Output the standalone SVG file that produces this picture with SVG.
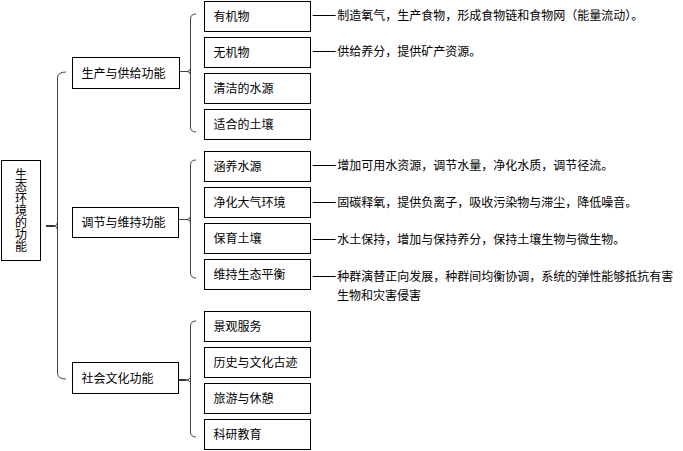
<svg xmlns="http://www.w3.org/2000/svg" width="683" height="451" viewBox="0 0 683 451">
<style>
  .box{fill:#fff;stroke:#000;stroke-width:1}
  .t{font-family:"Noto Sans CJK SC","Noto Sans",sans-serif;font-size:12px;fill:#000}
  .d{font-size:14.5px}
  .br{fill:none;stroke:#444;stroke-width:1}
  .tk{fill:none;stroke:#000;stroke-width:1.6}
</style>
<rect width="683" height="451" fill="#fff"/>
<g id="connectors">
  <path class="br" d="M66,72 Q57.5,72 57.5,78 L57.5,373 Q57.5,379 66,379"/>
  <path class="tk" d="M46,226 L54,226"/>
  <path class="br" d="M54,226 Q57.5,226 57.5,222 M54,226 Q57.5,226 57.5,230"/>
  <path class="br" d="M196,14 Q190.5,14 190.5,19 L190.5,127 Q190.5,132 196,132"/>
  <path class="br" d="M180,71.5 L187,71.5 Q190.5,71.5 190.5,68 M187,71.5 Q190.5,71.5 190.5,75"/>
  <path class="br" d="M196,160 Q190.5,160 190.5,165 L190.5,273 Q190.5,278 196,278"/>
  <path class="br" d="M179,219.5 L187,219.5 Q190.5,219.5 190.5,216 M187,219.5 Q190.5,219.5 190.5,223"/>
  <path class="br" d="M196,321 Q190.5,321 190.5,326 L190.5,432 Q190.5,437 196,437"/>
  <path class="tk" d="M179,380 L186,380"/>
  <path class="br" d="M186,380 Q190.5,380 190.5,376 M186,380 Q190.5,380 190.5,384"/>
</g>
<g id="root">
  <rect class="box" x="1.5" y="160.5" width="39" height="100"/>
  <text class="t" x="21" y="168" writing-mode="vertical-rl">生态环境的功能</text>
</g>
<g id="n-produce">
  <rect class="box" x="72.5" y="57.5" width="107" height="31"/>
  <text class="t" x="81.5" y="77.5">生产与供给功能</text>
</g>
<g id="n-regulate">
  <rect class="box" x="72.5" y="207.5" width="106" height="30"/>
  <text class="t" x="81.5" y="227">调节与维持功能</text>
</g>
<g id="n-social">
  <rect class="box" x="72.5" y="362.5" width="106" height="31"/>
  <text class="t" x="81.5" y="382.5">社会文化功能</text>
</g>
<g id="l1">
  <rect class="box" x="204.5" y="1.5" width="106" height="30"/>
  <text class="t" x="213.5" y="21">有机物</text>
  <text class="t" x="312" y="19.5"><tspan class="d">——</tspan><tspan dx="1">制造氧气，生产食物，形成食物链和食物网（能量流动）。</tspan></text>
</g>
<g id="l2">
  <rect class="box" x="204.5" y="37.5" width="106" height="30"/>
  <text class="t" x="213.5" y="57">无机物</text>
  <text class="t" x="312" y="56"><tspan class="d">——</tspan><tspan dx="1">供给养分，提供矿产资源。</tspan></text>
</g>
<g id="l3">
  <rect class="box" x="204.5" y="73.5" width="106" height="30"/>
  <text class="t" x="213.5" y="93">清洁的水源</text>
</g>
<g id="l4">
  <rect class="box" x="204.5" y="109.5" width="106" height="30"/>
  <text class="t" x="213.5" y="129">适合的土壤</text>
</g>
<g id="l5">
  <rect class="box" x="204.5" y="151.5" width="106" height="30"/>
  <text class="t" x="213.5" y="171">涵养水源</text>
  <text class="t" x="312" y="170"><tspan class="d">——</tspan><tspan dx="1">增加可用水资源，调节水量，净化水质，调节径流。</tspan></text>
</g>
<g id="l6">
  <rect class="box" x="204.5" y="187.5" width="106" height="30"/>
  <text class="t" x="213.5" y="207">净化大气环境</text>
  <text class="t" x="312" y="206.5"><tspan class="d">——</tspan><tspan dx="1">固碳释氧，提供负离子，吸收污染物与滞尘，降低噪音。</tspan></text>
</g>
<g id="l7">
  <rect class="box" x="204.5" y="223.5" width="106" height="30"/>
  <text class="t" x="213.5" y="243">保育土壤</text>
  <text class="t" x="312" y="243.5"><tspan class="d">——</tspan><tspan dx="1">水土保持，增加与保持养分，保持土壤生物与微生物。</tspan></text>
</g>
<g id="l8">
  <rect class="box" x="204.5" y="259.5" width="106" height="30"/>
  <text class="t" x="213.5" y="279">维持生态平衡</text>
  <text class="t" x="312" y="280.5"><tspan class="d">——</tspan><tspan dx="1">种群演替正向发展，种群间均衡协调，系统的弹性能够抵抗有害</tspan></text>
  <text class="t" x="337" y="299.5">生物和灾害侵害</text>
</g>
<g id="l9">
  <rect class="box" x="204.5" y="311.5" width="106" height="30"/>
  <text class="t" x="213.5" y="331">景观服务</text>
</g>
<g id="l10">
  <rect class="box" x="204.5" y="347.5" width="106" height="30"/>
  <text class="t" x="213.5" y="367">历史与文化古迹</text>
</g>
<g id="l11">
  <rect class="box" x="204.5" y="383.5" width="106" height="30"/>
  <text class="t" x="213.5" y="403">旅游与休憩</text>
</g>
<g id="l12">
  <rect class="box" x="204.5" y="419.5" width="106" height="30"/>
  <text class="t" x="213.5" y="439">科研教育</text>
</g>
</svg>
